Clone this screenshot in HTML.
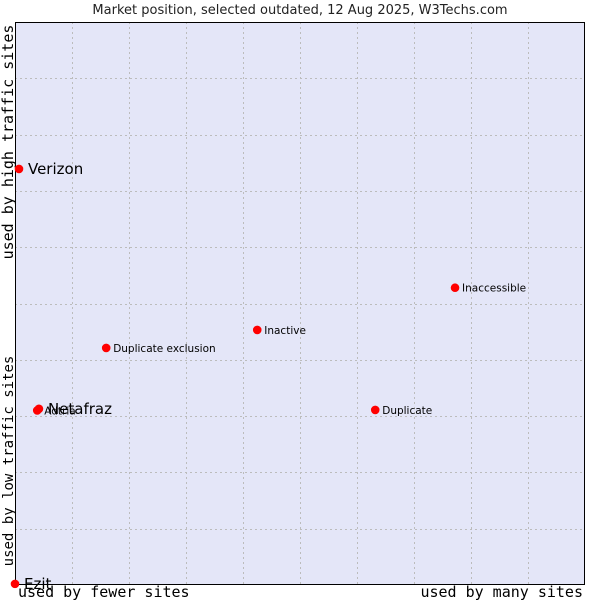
<!DOCTYPE html>
<html><head><meta charset="utf-8"><style>
body{margin:0;background:#fff;width:600px;height:600px;overflow:hidden}
svg text{font-family:"DejaVu Sans","Liberation Sans",sans-serif}
.mono{font-family:"DejaVu Sans Mono","Liberation Mono",monospace}
</style></head><body>
<svg id="chart" width="600" height="600" xmlns="http://www.w3.org/2000/svg">
<text x="300" y="14" text-anchor="middle" font-size="13" fill="#222">Market position, selected outdated, 12 Aug 2025, W3Techs.com</text>
<rect x="15" y="22" width="570" height="563" fill="#e4e6f8" stroke="none"/>
<g id="grid"></g>
<path d="M15.5 22.5 L584.5 22.5 L584.5 584.5 L15.5 584.5 Z" fill="none" stroke="#000" stroke-width="1"/>
<text class="mono" font-size="15" transform="translate(13,142) rotate(-90)" text-anchor="middle" fill="#000">used by high traffic sites</text>
<text class="mono" font-size="14" transform="translate(13,461) rotate(-90)" text-anchor="middle" fill="#000">used by low traffic sites</text>
<text class="mono" font-size="15" x="18" y="597" fill="#000">used by fewer sites</text>
<text class="mono" font-size="15" x="583" y="597" text-anchor="end" fill="#000">used by many sites</text>
<g id="points"></g>
</svg>
<script>
const names = ["Verizon","Netafraz","Adtria","Ezit","Duplicate exclusion","Inactive","Inaccessible","Duplicate"];
const xValues = [0.7,4.2,3.9,0,16,42.5,77.2,63.2];
const yValues = [73.9,31.3,31.0,0.2,42.1,45.3,52.8,31.1];
const bigLabel = [true,true,false,true,false,false,false,false];
const NS="http://www.w3.org/2000/svg";
const X0=15,X1=585,Y0=585,Y1=22;
function xs(v){return X0+(X1-X0)*v/100;}
function ys(v){return Y0-(Y0-Y1)*v/100;}
const grid=document.getElementById('grid');
for(let i=1;i<10;i++){
  const gx=Math.round(xs(i*10))+0.5;
  const l=document.createElementNS(NS,'line');
  
  
  l.setAttribute('x1',gx);l.setAttribute('x2',gx);l.setAttribute('y1',Y1);l.setAttribute('y2',Y0);
  l.setAttribute('stroke','#bcbcbc');l.setAttribute('stroke-dasharray','2,3');
  grid.appendChild(l);
  const gy=Math.round(ys(i*10))+0.5;
  const h=document.createElementNS(NS,'line');
  
  
  h.setAttribute('x1',X0);h.setAttribute('x2',X1);h.setAttribute('y1',gy);h.setAttribute('y2',gy);
  h.setAttribute('stroke','#bcbcbc');h.setAttribute('stroke-dasharray','2,3');
  grid.appendChild(h);
}
const pts=document.getElementById('points');
names.forEach((n,i)=>{
  const cx=xs(xValues[i]),cy=ys(yValues[i]);
  const c=document.createElementNS(NS,'circle');
  
  
  c.setAttribute('cx',cx);c.setAttribute('cy',cy);c.setAttribute('r',4.3);
  c.setAttribute('fill','#ff0000');
  pts.appendChild(c);
  const t=document.createElementNS(NS,'text');
  
  
  t.setAttribute('x',cx+(bigLabel[i]?9:7));
  t.setAttribute('y',cy+(bigLabel[i]?5:4));
  t.setAttribute('font-size',bigLabel[i]?15:10.5);
  t.setAttribute('fill','#000');
  t.textContent=n;
  pts.appendChild(t);
});
</script>
</body></html>
